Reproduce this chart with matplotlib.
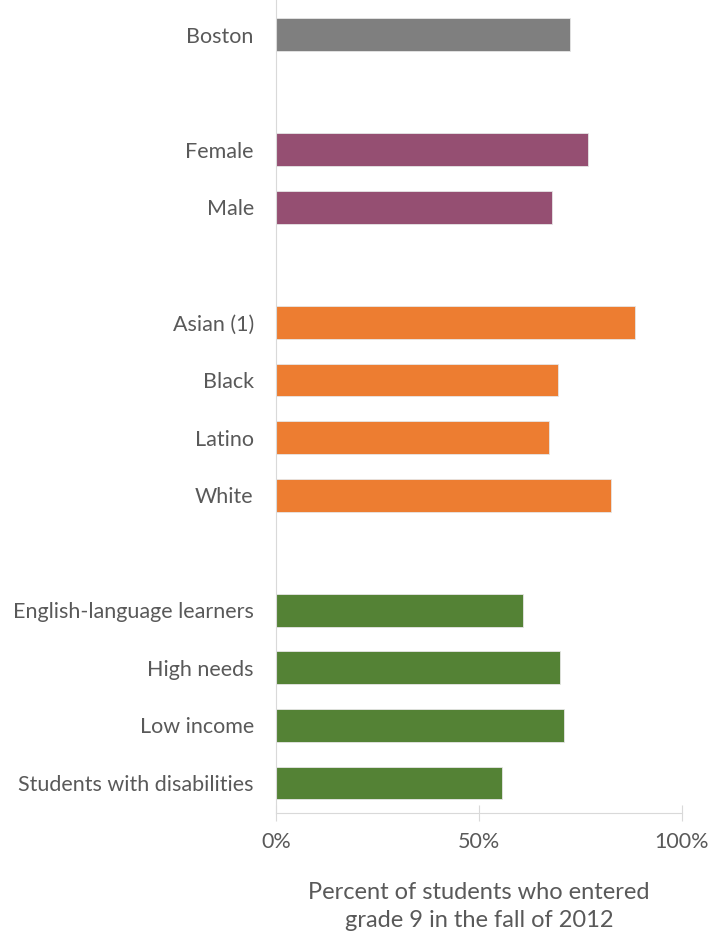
import numpy as np
import matplotlib.pyplot as plt

plt.rcParams['font.family'] = ['Lato', 'DejaVu Sans']

# categories and values (percent of grade 9 cohort)
labels = ['Boston', 'Female', 'Male', 'Asian (1)', 'Black', 'Latino', 'White',
          'English-language learners', 'High needs', 'Low income',
          'Students with disabilities']
values = [72.5, 77.0, 68.1, 88.4, 69.4, 67.2, 82.5, 61.0, 69.9, 70.9, 55.6]
groups = ['all', 'gender', 'gender', 'race', 'race', 'race', 'race',
          'need', 'need', 'need', 'need']
slots = [0, 2, 3, 5, 6, 7, 8, 10, 11, 12, 13]

group_colors = {'all': '#7f7f7f', 'gender': '#954f72',
                'race': '#ed7d31', 'need': '#548235'}
colors = [group_colors[g] for g in groups]

fig = plt.figure(figsize=(7.1, 9.38), dpi=100)
ax = fig.add_axes([276 / 710, 1 - 813 / 938, (681.7 - 276) / 710, 813 / 938])

ax.barh(slots, values, height=0.57, color=colors, edgecolor='#e6e6e6', linewidth=0.6)

ax.set_xlim(0, 100)
ax.set_ylim(13.52, -0.6)
ax.set_yticks(slots)
ax.set_yticklabels(labels, fontsize=15.5, color='#595959')
ax.tick_params(axis='y', length=0, pad=16)
ax.set_xticks([0, 50, 100])
ax.set_xticklabels(['0%', '50%', '100%'], fontsize=15.5, color='#595959')
ax.tick_params(axis='x', direction='inout', length=11, color='#d9d9d9', pad=8)

for s in ['top', 'right']:
    ax.spines[s].set_visible(False)
ax.spines['left'].set_color('#d9d9d9')
ax.spines['bottom'].set_color('#d9d9d9')

ax.set_xlabel('Percent of students who entered\ngrade 9 in the fall of 2012',
              fontsize=17, color='#595959', labelpad=22, linespacing=1.4)

fig.savefig('out.png', dpi=100)
